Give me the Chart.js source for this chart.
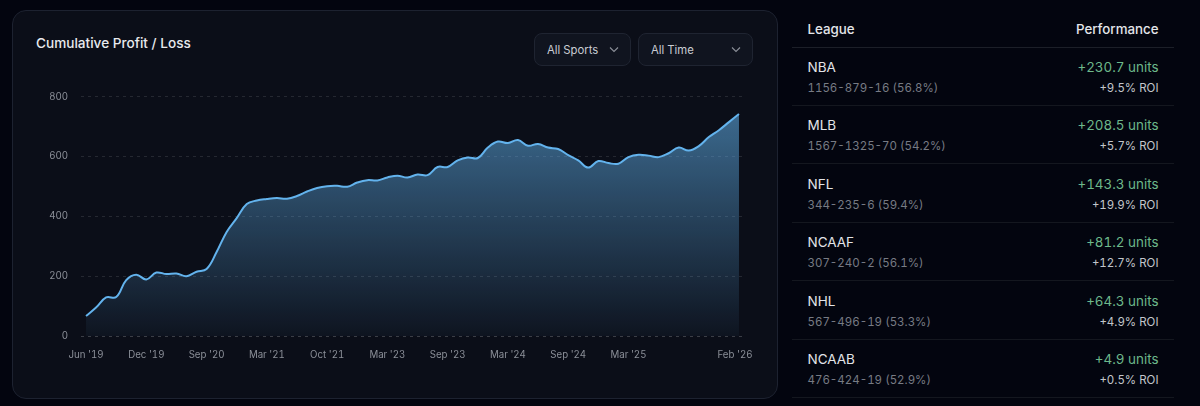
<!DOCTYPE html>
<html>
<head>
<meta charset="utf-8">
<script src="https://cdn.jsdelivr.net/npm/chart.js@4"></script>
<style>
  html, body { margin: 0; padding: 0; width: 1200px; height: 406px; overflow: hidden; background: #03050f; font-family: Inter, sans-serif; font-variant-numeric: tabular-nums; }
  .card { position: absolute; left: 12px; top: 10px; width: 764px; height: 387px; background: #0b0e18; border: 1px solid #1d2230; border-radius: 14px; }
  .title { position: absolute; left: 36px; top: 35px; font-size: 13.6px; font-weight: 500; color: #e8eaee; line-height: 16px; }
  .select { position: absolute; top: 33px; height: 31px; background: #10141f; border: 1px solid #1f2431; border-radius: 8px; color: #c9ccd3; font-size: 11.3px; line-height: 32px; box-sizing: content-box; }
  .select span { position: absolute; left: 12px; }
  .select svg { position: absolute; top: 12px; }
  #wrap { position: absolute; left: 36px; top: 80px; width: 730px; height: 295px; }
  .th { position: absolute; top: 21px; font-size: 13.3px; font-weight: 500; color: #e4e6ea; line-height: 16px; }
  .line { position: absolute; left: 792px; width: 382px; height: 1px; background: #14171f; }
  .txt { position: absolute; white-space: nowrap; line-height: 16px; }
</style>
</head>
<body>
<div class="card"></div>
<div class="title">Cumulative Profit / Loss</div>
<div class="select" style="left:534px;width:95px"><span>All Sports</span><svg style="left:74px" width="10" height="8" viewBox="0 0 10 8"><path d="M1 1.5 L5 5.5 L9 1.5" fill="none" stroke="#8b8f98" stroke-width="1.1"/></svg></div>
<div class="select" style="left:638px;width:113px"><span>All Time</span><svg style="left:92px" width="10" height="8" viewBox="0 0 10 8"><path d="M1 1.5 L5 5.5 L9 1.5" fill="none" stroke="#8b8f98" stroke-width="1.1"/></svg></div>
<div id="wrap"><canvas id="profitChart"></canvas></div>
<div class="th" style="left:807.5px">League</div>
<div class="th" style="right:41.5px">Performance</div>
<div id="table"></div>

<script>
const tickIndexes = [0, 6, 12, 18, 24, 30, 36, 42, 48, 54, 65];
const tickLabels = ["Jun '19", "Dec '19", "Sep '20", "Mar '21", "Oct '21", "Mar '23", "Sep '23", "Mar '24", "Sep '24", "Mar '25", "Feb '26"];
const profit = [
  67, 95, 129, 130, 187, 205, 189, 212, 207, 209, 200,
  215, 224, 281, 348, 394, 441, 453, 458, 461, 459, 468,
  483, 495, 501, 502, 499, 513, 521, 520, 530, 536, 530,
  540, 538, 565, 565, 587, 597, 595, 630, 650, 645, 655,
  636, 642, 630, 625, 605, 587, 563, 585, 578, 576, 598,
  606, 603, 598, 611, 630, 620, 635, 665, 688, 715, 742
];
const yTicks = [0, 200, 400, 600, 800];

const leagues = ["NBA", "MLB", "NFL", "NCAAF", "NHL", "NCAAB"];
const records = ["1156-879-16 (56.8%)", "1567-1325-70 (54.2%)", "344-235-6 (59.4%)", "307-240-2 (56.1%)", "567-496-19 (53.3%)", "476-424-19 (52.9%)"];
const units = ["+230.7 units", "+208.5 units", "+143.3 units", "+81.2 units", "+64.3 units", "+4.9 units"];
const roi = ["+9.5% ROI", "+5.7% ROI", "+19.9% ROI", "+12.7% ROI", "+4.9% ROI", "+0.5% ROI"];

// table on the right
const table = document.getElementById("table");
let html = '<div class="line" style="top:47px;background:#1c1f28"></div>';
leagues.forEach((name, i) => {
  const top = 58.4 * i;
  html += `<div class="txt" style="left:807.5px;top:${59 + top}px;font-size:13.5px;color:#e2e4e8">${name}</div>`;
  html += `<div class="txt" style="left:807.5px;top:${80 + top}px;font-size:11.5px;color:#777b84">${records[i]}</div>`;
  html += `<div class="txt" style="right:41.5px;top:${59 + top}px;font-size:13.4px;color:#6db88b">${units[i]}</div>`;
  html += `<div class="txt" style="right:41.5px;top:${80 + top}px;font-size:11.5px;color:#c2c5cb">${roi[i]}</div>`;
  html += `<div class="line" style="top:${105 + top}px"></div>`;
});
table.innerHTML = html;

const labels = profit.map((_, i) => {
  const t = tickIndexes.indexOf(i);
  return t >= 0 ? tickLabels[t] : "";
});

// last x label sits a little left of its point in the original
const nudgeLastLabel = {
  id: "nudgeLastLabel",
  afterUpdate(chart) {
    const items = chart.scales.x.getLabelItems().filter(it => it.label);
    items[items.length - 1].options.translation[0] -= 4;
  }
};

new Chart(document.getElementById("profitChart"), {
  type: "line",
  data: {
    labels,
    datasets: [{
      data: profit,
      borderColor: "#63b3ed",
      borderWidth: 2,
      pointRadius: 0,
      tension: 0.4,
      fill: true,
      backgroundColor(ctx) {
        const area = ctx.chart.chartArea;
        if (!area) return "transparent";
        const g = ctx.chart.ctx.createLinearGradient(0, area.top + 15, 0, area.bottom);
        g.addColorStop(0, "rgba(99,179,237,0.56)");
        g.addColorStop(1, "rgba(99,179,237,0.04)");
        return g;
      }
    }]
  },
  options: {
    responsive: true,
    maintainAspectRatio: false,
    animation: false,
    layout: { padding: { top: 16.7, right: 22 } },
    plugins: { legend: { display: false }, tooltip: { enabled: false } },
    scales: {
      x: {
        offset: true,
        afterFit(scale) { scale.height = 39; },
        grid: { display: false },
        border: { display: false },
        ticks: { autoSkip: false, maxRotation: 0, padding: 5, color: "#8b8f98", font: { family: "Inter", size: 9.7 } }
      },
      y: {
        min: 0,
        max: 800,
        afterFit(scale) { scale.width = 45; },
        afterBuildTicks(scale) { scale.ticks = yTicks.map(value => ({ value })); },
        grid: {
          color(ctx) { return ctx.tick.value === 0 ? "rgba(255,255,255,0.2)" : "rgba(255,255,255,0.11)"; },
          tickColor: "transparent",
          tickLength: 13
        },
        border: { display: false, dash: [3, 4] },
        ticks: { padding: 0, color: "#8b8f98", font: { family: "Inter", size: 9.7 } }
      }
    }
  },
  plugins: [nudgeLastLabel]
});
</script>
</body>
</html>
